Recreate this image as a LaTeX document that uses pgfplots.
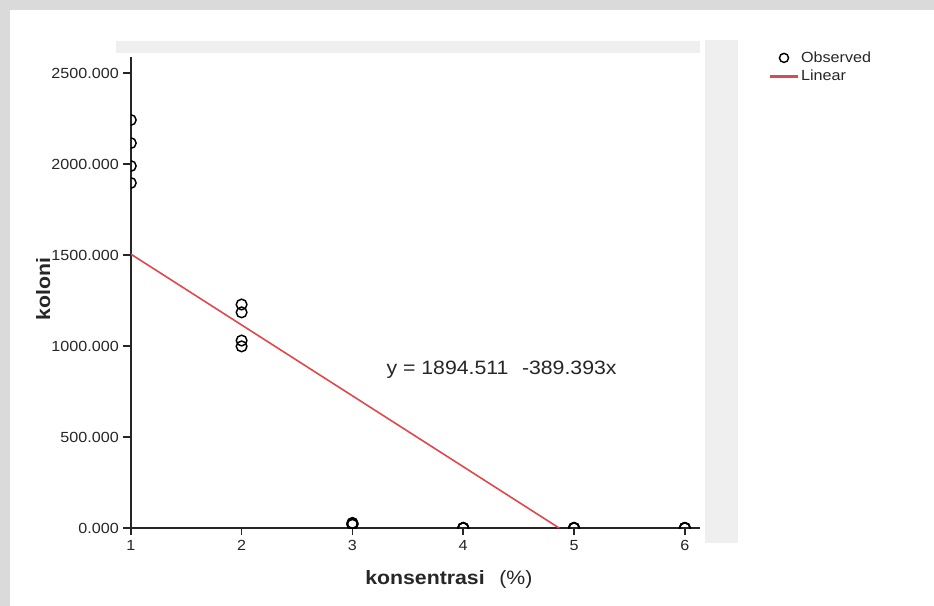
\documentclass[border=0pt]{standalone}
\usepackage{pgfplots}
\pgfplotsset{compat=1.18}
\usepackage{fontspec}
\setmainfont[FakeStretch=1.1]{Liberation Sans}
\definecolor{bordergray}{HTML}{DADADA}
\definecolor{panelgray}{HTML}{EFEFEF}
\definecolor{txt}{HTML}{262626}
\definecolor{fitred}{HTML}{DC4A4E}
\begin{document}
\begin{tikzpicture}
\begin{scope}[x=0.75pt,y=-0.75pt]
  \path[use as bounding box] (0,0) rectangle (934,606);
  \fill[white] (0,0) rectangle (934,606);
  \fill[bordergray] (0,0) rectangle (934,10);
  \fill[bordergray] (0,0) rectangle (10,606);
  \fill[panelgray] (116,41) rectangle (700,53);
  \fill[panelgray] (705,40) rectangle (738,543);
\end{scope}
\begin{axis}[
  at={(98.1pt,-396pt)}, anchor=south west,
  scale only axis, width=426.75pt, height=353.25pt,
  xmin=1, xmax=6.135, ymin=0, ymax=2588,
  axis x line=bottom, axis y line=left,
  axis line style={-, line width=1.2pt, txt},
  xtick={1,2,3,4,5,6},
  ytick={0,500,1000,1500,2000,2500},
  tick align=outside, major tick length=5.5pt,
  tick style={line width=1.2pt, txt},
  /pgf/number format/assume math mode=true,
  yticklabel style={/pgf/number format/.cd, fixed, fixed zerofill, precision=3, 1000 sep={}},
  ticklabel style={font=\fontsize{11}{12}\selectfont, text=txt},
  xticklabel style={/pgf/number format/.cd, fixed, precision=0},
  xlabel={\textbf{konsentrasi}\hspace{11pt}(\%)},
  ylabel={\textbf{koloni}},
  x label style={at={(axis description cs:0.559,-0.110)}, anchor=center, font=\fontsize{14.5}{16}\selectfont, text=txt},
  y label style={at={(axis description cs:-0.154,0.507)}, anchor=center, rotate=0, font=\fontsize{14.5}{16}\selectfont, text=txt},
  clip mode=individual,
  clip marker paths=true,
  legend style={at={(rel axis cs:1.114,1.022)}, anchor=north west, draw=none, fill=none,
    font=\fontsize{11}{12}\selectfont, text=txt, row sep=1.5pt,
    nodes={inner sep=1.5pt}},
  legend cell align=left,
]
\addplot[only marks, mark=o, mark size=4pt, mark options={line width=1.1pt, draw=black},
  legend image code/.code={\draw[mark=o, mark size=3.4pt, line width=1pt, black] plot coordinates {(10.5pt,0pt)};}]
  coordinates {
  (1,2242) (1,2115) (1,1989) (1,1896)
  (2,1228) (2,1185) (2,1030) (2,998)
  (3,28) (3,24) (3,20) (3,18)
  (4,0) (4,0) (4,0) (4,0)
  (5,0) (5,0) (5,0) (5,0)
  (6,0) (6,0) (6,0) (6,0)
  };
\addlegendentry{Observed}
\addplot[fitred, line width=1.2pt,
  legend image code/.code={\draw[fitred, line width=1.6pt] (0pt,0pt) -- (21pt,0pt);}]
  coordinates {(1,1505.118) (4.8653,0)};
\addlegendentry{Linear}
\node[font=\fontsize{14.5}{16}\selectfont, text=txt, anchor=center] at (axis cs:4.346,868) {y = 1894.511\hspace{0.7em}-389.393x};
\end{axis}
\end{tikzpicture}
\end{document}
